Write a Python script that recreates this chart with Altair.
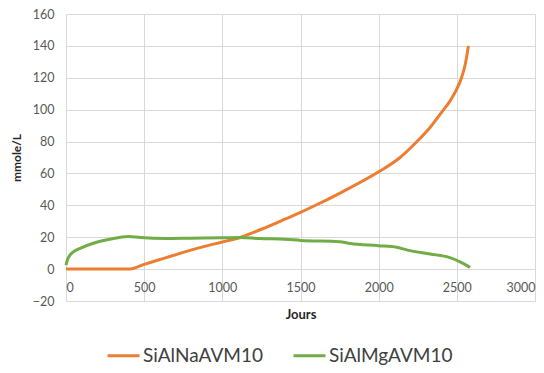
import altair as alt
import pandas as pd

series_names = ["SiAlNaAVM10", "SiAlMgAVM10"]
colors = ["#ED7D31", "#70AD47"]

na_days = [0, 100, 200, 300, 400, 500, 600, 750, 900, 1000, 1120, 1250, 1400, 1500,
           1600, 1753, 2000, 2137, 2245, 2330, 2400, 2460, 2500, 2530, 2555, 2574]
na_vals = [0, 0, 0, 0, 0, 3, 6, 10.5, 14.6, 17, 20, 25, 31.3, 35.6,
           40.2, 47.7, 61, 70, 80, 89, 98, 106, 113, 120, 129, 140]

mg_days = [0, 10, 25, 50, 90, 175, 280, 398, 475, 640, 800, 1000, 1113, 1240, 1400,
           1500, 1750, 1820, 2000, 2115, 2200, 2330, 2455, 2520, 2560, 2585]
mg_vals = [2.5, 6, 8.8, 11, 13, 16.2, 18.7, 20.5, 19.8, 19.2, 19.4, 19.6, 19.8, 19.2, 18.8,
           18, 17.2, 16, 14.7, 13.7, 11.6, 9.5, 7.2, 4.6, 2.5, 1]

x_ticks = [0, 500, 1000, 1500, 2000, 2500, 3000]
y_ticks = [-20, 0, 20, 40, 60, 80, 100, 120, 140, 160]

df = pd.concat([
    pd.DataFrame({"Jours": na_days, "val": na_vals, "serie": series_names[0], "o": range(len(na_days))}),
    pd.DataFrame({"Jours": mg_days, "val": mg_vals, "serie": series_names[1], "o": range(len(mg_days))}),
])

FONT = "Lato"
GRID = "#d9d9d9"
LABEL = "#595959"

chart = alt.Chart(df).mark_line(strokeWidth=3, interpolate="monotone").encode(
    x=alt.X("Jours:Q",
            scale=alt.Scale(domain=[0, 3000], nice=False, zero=False),
            axis=alt.Axis(values=x_ticks, format="d", grid=True, gridColor=GRID, gridWidth=1,
                          domain=False, ticks=False, offset=-32,
                          labelFont=FONT, labelFontSize=12.5, labelColor=LABEL, labelPadding=12,
                          title="Jours", titleFont=FONT, titleFontSize=13, titleFontWeight="bold",
                          titleColor="#262626", titlePadding=15)),
    y=alt.Y("val:Q",
            scale=alt.Scale(domain=[-20, 160], nice=False, zero=False),
            axis=alt.Axis(values=y_ticks, grid=True, gridColor=GRID, gridWidth=1,
                          domain=False, ticks=False,
                          labelFont=FONT, labelFontSize=12.5, labelColor=LABEL, labelPadding=12,
                          title="mmole/L", titleFont=FONT, titleFontSize=12, titleFontWeight="bold",
                          titleColor="#262626", titlePadding=9)),
    color=alt.Color("serie:N",
                    scale=alt.Scale(domain=series_names, range=colors),
                    legend=alt.Legend(title=None, orient="none", legendX=40, legendY=324,
                                      direction="horizontal", symbolType="stroke",
                                      symbolSize=1024, symbolStrokeWidth=3,
                                      labelFont=FONT, labelFontSize=19, labelColor="#404040",
                                      labelOffset=2, columnPadding=24, padding=0)),
    order="o:Q",
).properties(
    width=469, height=287,
    autosize=alt.AutoSizeParams(type="none"),
    padding={"left": 66, "top": 14, "right": 9, "bottom": 72},
).configure_view(stroke=None).configure(background="white")

chart.save("out.html", embed_options={"renderer": "svg", "actions": False})
